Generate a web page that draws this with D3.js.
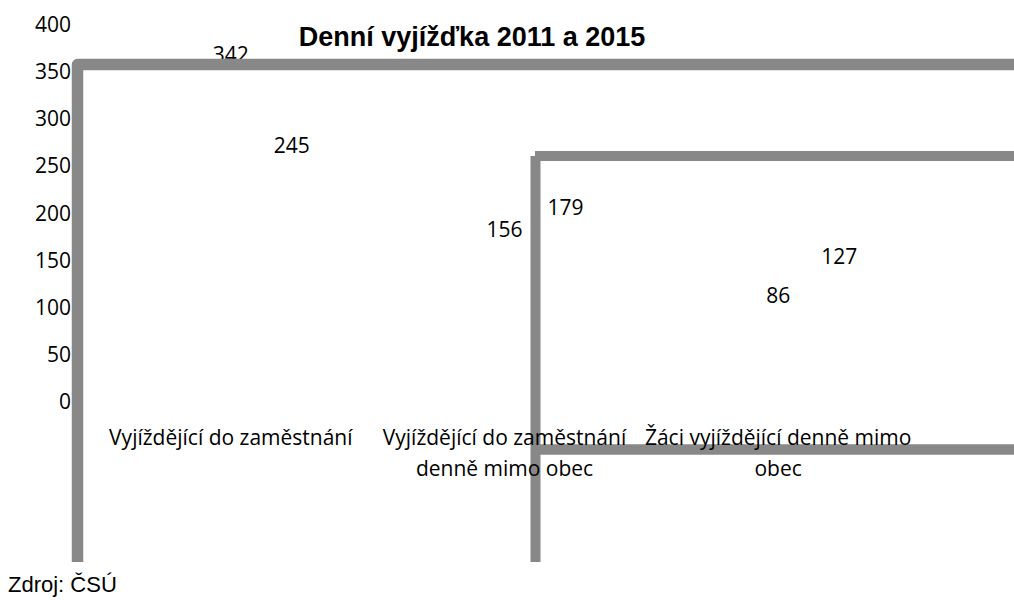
<!DOCTYPE html>
<html>
<head>
<meta charset="utf-8">
<script src="https://cdn.jsdelivr.net/npm/d3@7"></script>
<style>
  html, body { margin: 0; padding: 0; background: #ffffff; }
  svg { display: block; }
</style>
</head>
<body>
<script>
const categories = [
  "Vyjíždějící do zaměstnání",
  "Vyjíždějící do zaměstnání denně mimo obec",
  "Žáci vyjíždějící denně mimo obec"
];
const series2011 = [342, 156, 86];
const series2015 = [245, 179, 127];
const yTicks = [0, 50, 100, 150, 200, 250, 300, 350, 400];
const titleText = "Denní vyjížďka 2011 a 2015";
const sourceText = "Zdroj: ČSÚ";

const W = 1014, H = 600;
const svg = d3.select("body").append("svg").attr("width", W).attr("height", H);
const FONT = "'Open Sans', sans-serif";
const GRAY = "#888888";

const y = d3.scaleLinear().domain([0, 400]).range([401, 24]);
const x = d3.scaleBand().domain(categories).range([94, 915]).padding(0);
const seriesOffset = d3.scaleOrdinal().domain(["2011", "2015"]).range([0, 61]);

// y axis (tick labels only)
const yAxis = svg.append("g")
  .attr("transform", "translate(71,0)")
  .call(d3.axisLeft(y).tickValues(yTicks).tickSize(0).tickPadding(0).tickFormat(d3.format("d")));
yAxis.select(".domain").remove();
yAxis.selectAll("text")
  .attr("dy", "0.357em")
  .attr("fill", "#000")
  .style("font-family", FONT)
  .style("font-size", "21px");

// data labels
const labelData = [];
categories.forEach((c, i) => {
  labelData.push({ cat: c, s: "2011", v: series2011[i] });
  labelData.push({ cat: c, s: "2015", v: series2015[i] });
});
svg.append("g").selectAll("text").data(labelData).join("text")
  .attr("x", d => x(d.cat) + x.bandwidth() / 2 + seriesOffset(d.s))
  .attr("y", d => y(d.v) - 24.5)
  .attr("dy", "0.357em")
  .attr("text-anchor", "middle")
  .style("font-family", FONT)
  .style("font-size", "21px")
  .attr("fill", "#000")
  .text(d => d.v);

// frame lines (decoration)
const frame = svg.append("g").attr("fill", "none").attr("stroke", GRAY);
frame.append("path")
  .attr("d", "M77.5,562 V64.5 H1014")
  .attr("stroke-width", 11.5)
  .attr("stroke-linejoin", "round");
frame.append("path").attr("d", "M535.5,156 V562").attr("stroke-width", 10);
frame.append("path").attr("d", "M535,156 H1014").attr("stroke-width", 10);
frame.append("path").attr("d", "M535,449.5 H1014").attr("stroke-width", 10.5);

// category labels with wrapping
const catG = svg.append("g");
categories.forEach(c => {
  const t = catG.append("text")
    .attr("text-anchor", "middle")
    .style("font-family", FONT)
    .style("font-size", "21px")
    .attr("fill", "#000");
  const words = c.split(" ");
  let lines = [], line = [];
  const probe = svg.append("text").style("font-family", FONT).style("font-size", "21px");
  words.forEach(w => {
    const trial = line.concat([w]).join(" ");
    probe.text(trial);
    if (probe.node().getComputedTextLength() > 280 && line.length) {
      lines.push(line.join(" "));
      line = [w];
    } else {
      line.push(w);
    }
  });
  lines.push(line.join(" "));
  probe.remove();
  lines.forEach((ln, k) => {
    t.append("tspan")
      .attr("x", x(c) + x.bandwidth() / 2)
      .attr("y", 445 + k * 31)
      .text(ln);
  });
});

// title
svg.append("text")
  .attr("x", 472)
  .attr("y", 46)
  .attr("text-anchor", "middle")
  .style("font-family", "'Liberation Sans', Arial, sans-serif")
  .style("font-weight", "bold")
  .style("font-size", "27px")
  .attr("fill", "#000")
  .text(titleText);

// source
svg.append("text")
  .attr("x", 8)
  .attr("y", 592)
  .style("font-family", "'Liberation Sans', Arial, sans-serif")
  .style("font-size", "22px")
  .attr("fill", "#000")
  .text(sourceText);
</script>
</body>
</html>
